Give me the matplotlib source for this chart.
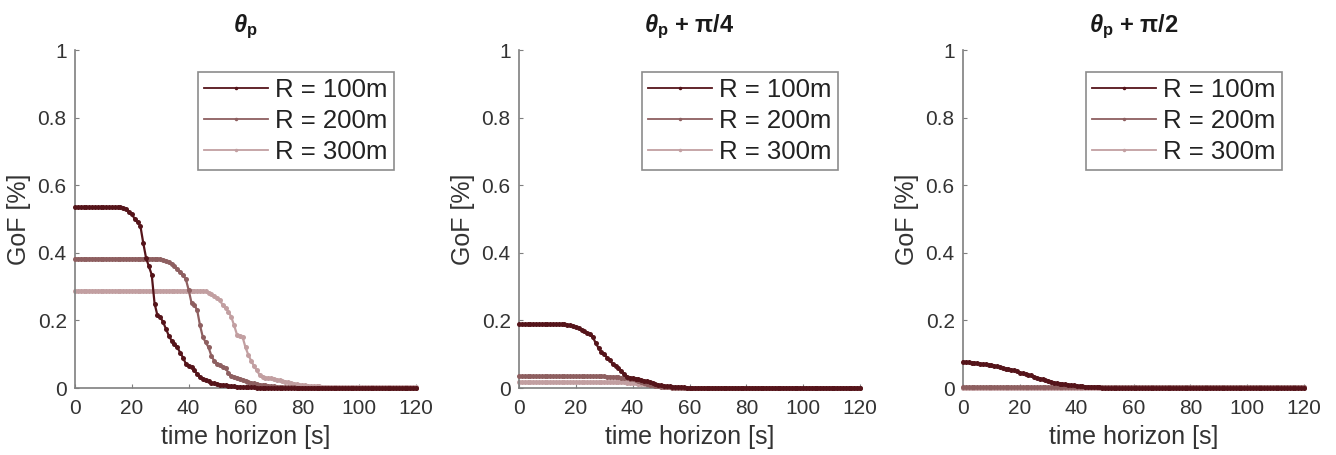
import matplotlib
matplotlib.use("Agg")
import matplotlib.pyplot as plt
import numpy as np

plt.rcParams['font.family'] = ['Liberation Sans', 'DejaVu Sans']
plt.rcParams['mathtext.fontset'] = 'custom'
plt.rcParams['mathtext.it'] = 'Liberation Sans:italic:bold'
plt.rcParams['mathtext.bf'] = 'Liberation Sans:bold'
plt.rcParams['mathtext.rm'] = 'Liberation Sans'

# ---------------- data ----------------
time_s = list(range(0, 121))
series_labels = ['R = 100m', 'R = 200m', 'R = 300m']
panel_titles = [r'$\theta_{\mathbf{p}}$', r'$\theta_{\mathbf{p}}$ + π/4', r'$\theta_{\mathbf{p}}$ + π/2']
x_ticks = [0, 20, 40, 60, 80, 100, 120]
y_ticks = [0, 0.2, 0.4, 0.6, 0.8, 1]
y_ticklabels = ['0', '0.2', '0.4', '0.6', '0.8', '1']

p1_r100 = [0.535] * 17 + [
    0.533, 0.530, 0.522, 0.515, 0.500, 0.490, 0.480, 0.430, 0.385, 0.360,
    0.335, 0.250, 0.215, 0.210, 0.195, 0.175, 0.155, 0.140, 0.130, 0.120,
    0.105, 0.090, 0.072, 0.066, 0.062, 0.052, 0.042, 0.034, 0.028, 0.024,
    0.020, 0.016, 0.014, 0.012, 0.010, 0.009, 0.008, 0.007, 0.006, 0.005,
    0.004, 0.004, 0.003, 0.003, 0.002, 0.002, 0.002, 0.001] + [0.0] * 56

p1_r200 = [0.383] * 30 + [
    0.382, 0.380, 0.377, 0.373, 0.368, 0.360, 0.352, 0.342, 0.334, 0.322,
    0.290, 0.252, 0.246, 0.230, 0.185, 0.150, 0.135, 0.120, 0.095, 0.080,
    0.072, 0.067, 0.063, 0.058, 0.045, 0.036, 0.033, 0.031, 0.028, 0.024,
    0.021, 0.018, 0.016, 0.014, 0.012, 0.010, 0.009, 0.008, 0.007, 0.006,
    0.005, 0.004, 0.004, 0.003, 0.003, 0.002, 0.002, 0.002, 0.001, 0.001] + [0.0] * 41

p1_r300 = [0.288] * 46 + [
    0.286, 0.282, 0.277, 0.272, 0.265, 0.259, 0.245, 0.236, 0.226, 0.210,
    0.185, 0.158, 0.154, 0.150, 0.120, 0.098, 0.080, 0.065, 0.052, 0.038,
    0.032, 0.031, 0.030, 0.029, 0.027, 0.025, 0.023, 0.021, 0.019, 0.017,
    0.015, 0.013, 0.011, 0.010, 0.009, 0.008, 0.007, 0.006, 0.006, 0.005,
    0.005, 0.004, 0.004, 0.004, 0.003, 0.003, 0.003, 0.003, 0.002, 0.002] + [0.002] * 25

p2_r100 = [0.189] * 16 + [
    0.188, 0.187, 0.185, 0.184, 0.181, 0.177, 0.172, 0.168, 0.163, 0.160,
    0.150, 0.133, 0.118, 0.106, 0.100, 0.090, 0.082, 0.070, 0.065, 0.060,
    0.050, 0.042, 0.034, 0.031, 0.030, 0.028, 0.026, 0.024, 0.022, 0.020,
    0.018, 0.015, 0.012, 0.010, 0.008, 0.007, 0.006, 0.005, 0.004, 0.003,
    0.003, 0.002, 0.002, 0.001] + [0.0] * 61

p2_r200 = [0.035] * 30 + [
    0.035, 0.034, 0.034, 0.033, 0.033, 0.032, 0.031, 0.030, 0.029, 0.028,
    0.026, 0.024, 0.022, 0.019, 0.016, 0.013, 0.010, 0.008, 0.006, 0.005,
    0.004, 0.003, 0.002, 0.002, 0.001] + [0.0] * 66

p2_r300 = [0.018] * 35 + [
    0.018, 0.017, 0.017, 0.016, 0.016, 0.015, 0.014, 0.013, 0.012, 0.011,
    0.010, 0.009, 0.008, 0.007, 0.006, 0.005, 0.004, 0.004, 0.003, 0.003,
    0.002, 0.002, 0.002, 0.001, 0.001] + [0.001] * 61

p3_r100 = [
    0.078, 0.077, 0.076, 0.075, 0.074, 0.073, 0.072, 0.071, 0.070, 0.069,
    0.068, 0.066, 0.064, 0.061, 0.059, 0.057, 0.056, 0.054, 0.053, 0.049,
    0.045, 0.043, 0.041, 0.039, 0.038, 0.034, 0.030, 0.028, 0.026, 0.024,
    0.021, 0.018, 0.016, 0.014, 0.013, 0.012, 0.011, 0.010, 0.009, 0.008,
    0.007, 0.006, 0.005, 0.004, 0.004, 0.003, 0.003, 0.002, 0.002, 0.001] + [0.0] * 71

p3_r200 = [0.002] * 121
p3_r300 = [0.001] * 121

panels = [
    [p1_r100, p1_r200, p1_r300],
    [p2_r100, p2_r200, p2_r300],
    [p3_r100, p3_r200, p3_r300],
]

colors = ['#55141a', '#8e5f60', '#c29fa1']

# ---------------- figure ----------------
fig = plt.figure(figsize=(13.36, 4.55), dpi=100)
lefts = [75 / 1336, 519 / 1336, 963 / 1336]
width = 341 / 1336
bottom = (455 - 388) / 455
height = 338 / 455

axis_gray = '#7f7f7f'
text_col = '#333333'

for i, (left, series, title) in enumerate(zip(lefts, panels, panel_titles)):
    ax = fig.add_axes([left, bottom, width, height])
    # draw lightest first so darkest is on top
    for vals, col, lab, z in zip(series[::-1], colors[::-1], series_labels[::-1], [2, 3, 4]):
        ax.plot(time_s, vals, color=col, lw=1.6, marker='o', markersize=3.6,
                markeredgewidth=0, label=lab, zorder=z, clip_on=False)
    ax.set_xlim(0, 120)
    ax.set_ylim(0, 1)
    ax.set_xticks(x_ticks)
    ax.set_yticks(y_ticks)
    ax.set_yticklabels(y_ticklabels)
    for s in ['top', 'right']:
        ax.spines[s].set_visible(False)
    for s in ['left', 'bottom']:
        ax.spines[s].set_color(axis_gray)
        ax.spines[s].set_linewidth(1.2)
    ax.tick_params(direction='in', length=3, width=0.8, color=axis_gray,
                   labelsize=15, labelcolor=text_col)
    ax.tick_params(axis='x', pad=8)
    ax.tick_params(axis='y', pad=6)
    ax.set_xlabel('time horizon [s]', fontsize=18, color=text_col, labelpad=5)
    ax.set_ylabel('GoF [%]', fontsize=18, color=text_col, labelpad=5)
    ax.set_title(title, fontsize=17, fontweight='bold', color='#1a1a1a', pad=13)
    handles, labels = ax.get_legend_handles_labels()
    leg = ax.legend(handles[::-1], labels[::-1], loc='upper right',
                    bbox_to_anchor=(0.935, 0.935), borderaxespad=0,
                    fontsize=18.5, frameon=True, fancybox=False,
                    handlelength=2.5, handletextpad=0.25, labelspacing=0.26,
                    borderpad=0.25, markerscale=0.7)
    leg.get_frame().set_edgecolor('#6f6f6f')
    leg.get_frame().set_linewidth(1.2)
    for t in leg.get_texts():
        t.set_color('#222222')
    for ln in leg.get_lines():
        ln.set_linewidth(1.3)

fig.savefig('out.png', dpi=100)
